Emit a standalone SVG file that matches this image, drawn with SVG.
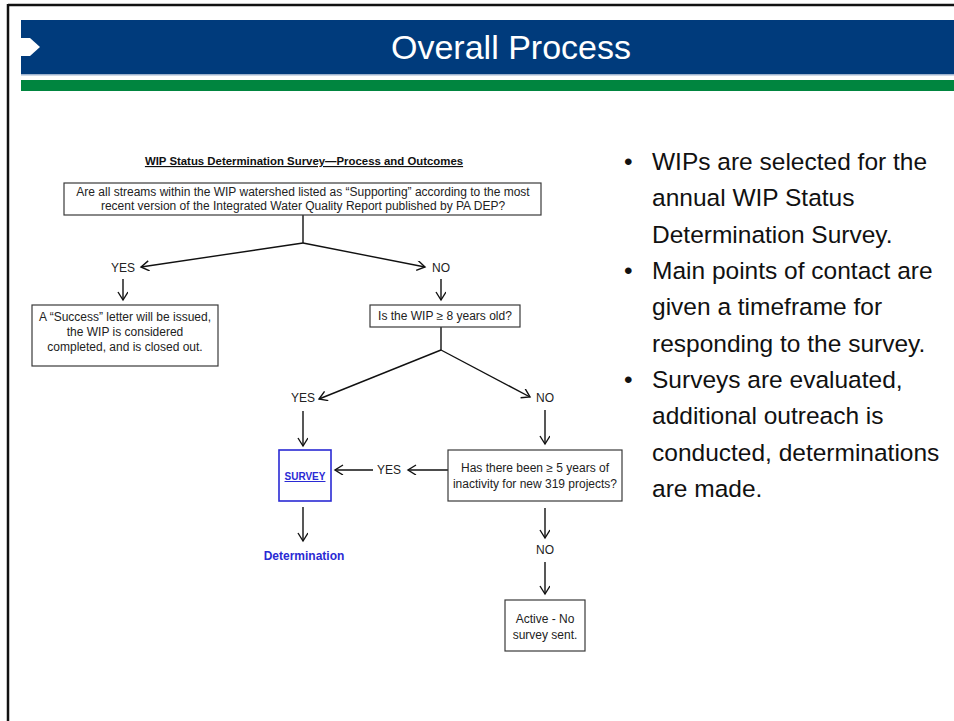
<svg xmlns="http://www.w3.org/2000/svg" width="954" height="721" viewBox="0 0 954 721">
<style>
text{font-family:"Liberation Sans",Arial,sans-serif;}
.t{font-size:12px;fill:#222;}
.m{text-anchor:middle;}
.box{fill:#fff;stroke:#3a3a3a;stroke-width:1.2;}
.con{stroke:#111;stroke-width:1.4;fill:none;}
.blue{fill:#2a2ad4;font-weight:bold;font-size:12px;}
.bul{font-size:24.5px;fill:#111;}
</style>
<defs>
<marker id="ah" markerWidth="12" markerHeight="12" refX="9" refY="5" orient="auto" markerUnits="userSpaceOnUse">
<path d="M1,0 L9,5 L1,10" fill="none" stroke="#111" stroke-width="1.4"/>
</marker>
</defs>
<rect x="0" y="0" width="954" height="721" fill="#fff"/>
<g id="frame">
<line x1="8" y1="5" x2="954" y2="5" stroke="#111" stroke-width="2.5"/>
<line x1="8" y1="4" x2="8" y2="721" stroke="#111" stroke-width="2.5"/>
</g>
<g id="header">
<rect x="21" y="20" width="933" height="54" fill="#003b7c"/>
<rect x="21" y="74" width="933" height="1.5" fill="#9fb4cf"/>
<polygon points="21,38 30,38 40,47 30,56 21,56" fill="#fff"/>
<rect x="21" y="80" width="933" height="11" fill="#00853f"/>
<text x="511" y="59" font-size="34" fill="#fff" text-anchor="middle">Overall Process</text>
</g>
<g id="chart-title">
<text x="304" y="165" font-size="11.4" font-weight="bold" fill="#111" text-anchor="middle" text-decoration="underline">WIP Status Determination Survey—Process and Outcomes</text>
</g>
<g id="connectors">
<line class="con" x1="303" y1="215" x2="303" y2="243"/>
<line class="con" x1="303" y1="243" x2="141" y2="267" marker-end="url(#ah)"/>
<line class="con" x1="303" y1="243" x2="425" y2="267" marker-end="url(#ah)"/>
<line class="con" x1="123" y1="279" x2="123" y2="300" marker-end="url(#ah)"/>
<line class="con" x1="441" y1="279" x2="441" y2="300" marker-end="url(#ah)"/>
<line class="con" x1="441" y1="327" x2="441" y2="350"/>
<line class="con" x1="441" y1="350" x2="319" y2="399" marker-end="url(#ah)"/>
<line class="con" x1="441" y1="350" x2="530" y2="397" marker-end="url(#ah)"/>
<line class="con" x1="303" y1="411" x2="303" y2="446" marker-end="url(#ah)"/>
<line class="con" x1="545" y1="410" x2="545" y2="444" marker-end="url(#ah)"/>
<line class="con" x1="448" y1="470" x2="408" y2="470" marker-end="url(#ah)"/>
<line class="con" x1="373" y1="470" x2="335" y2="470" marker-end="url(#ah)"/>
<line class="con" x1="303" y1="507" x2="303" y2="541" marker-end="url(#ah)"/>
<line class="con" x1="545" y1="508" x2="545" y2="538" marker-end="url(#ah)"/>
<line class="con" x1="545" y1="562" x2="545" y2="594" marker-end="url(#ah)"/>
</g>
<g id="q1">
<rect class="box" x="64" y="183" width="477" height="32"/>
<text class="t m" x="303" y="196">Are all streams within the WIP watershed listed as “Supporting” according to the most</text>
<text class="t m" x="303" y="210">recent version of the Integrated Water Quality Report published by PA DEP?</text>
</g>
<g id="yes1"><text class="t m" x="123" y="272">YES</text></g>
<g id="no1"><text class="t m" x="441" y="272">NO</text></g>
<g id="success">
<rect class="box" x="32" y="305" width="186" height="61"/>
<text class="t m" x="125" y="321">A “Success” letter will be issued,</text>
<text class="t m" x="125" y="336">the WIP is considered</text>
<text class="t m" x="125" y="351">completed, and is closed out.</text>
</g>
<g id="q2">
<rect class="box" x="370" y="305" width="150" height="22"/>
<text class="t m" x="445" y="320">Is the WIP ≥ 8 years old?</text>
</g>
<g id="yes2"><text class="t m" x="303" y="402">YES</text></g>
<g id="no2"><text class="t m" x="545" y="402">NO</text></g>
<g id="survey">
<rect x="279" y="450" width="52" height="51" fill="#fff" stroke="#2a2ad4" stroke-width="1.6"/>
<text class="blue m" x="305" y="480" font-size="10" style="font-size:10px" text-decoration="underline">SURVEY</text>
</g>
<g id="determination"><text class="blue m" x="304" y="560">Determination</text></g>
<g id="q3">
<rect class="box" x="448" y="450" width="174" height="51"/>
<text class="t m" x="535" y="472">Has there been ≥ 5 years of</text>
<text class="t m" x="535" y="488">inactivity for new 319 projects?</text>
</g>
<g id="yes3"><text class="t m" x="389" y="474">YES</text></g>
<g id="no3"><text class="t m" x="545" y="554">NO</text></g>
<g id="active">
<rect class="box" x="505" y="600" width="80" height="51"/>
<text class="t m" x="545" y="623">Active - No</text>
<text class="t m" x="545" y="639">survey sent.</text>
</g>
<g id="bullets">
<text class="bul" x="624" y="170">•</text>
<text class="bul" x="652" y="170">WIPs are selected for the</text>
<text class="bul" x="652" y="206">annual WIP Status</text>
<text class="bul" x="652" y="243">Determination Survey.</text>
<text class="bul" x="624" y="279">•</text>
<text class="bul" x="652" y="279">Main points of contact are</text>
<text class="bul" x="652" y="315">given a timeframe for</text>
<text class="bul" x="652" y="352">responding to the survey.</text>
<text class="bul" x="624" y="388">•</text>
<text class="bul" x="652" y="388">Surveys are evaluated,</text>
<text class="bul" x="652" y="424">additional outreach is</text>
<text class="bul" x="652" y="461">conducted, determinations</text>
<text class="bul" x="652" y="497">are made.</text>
</g>
</svg>
